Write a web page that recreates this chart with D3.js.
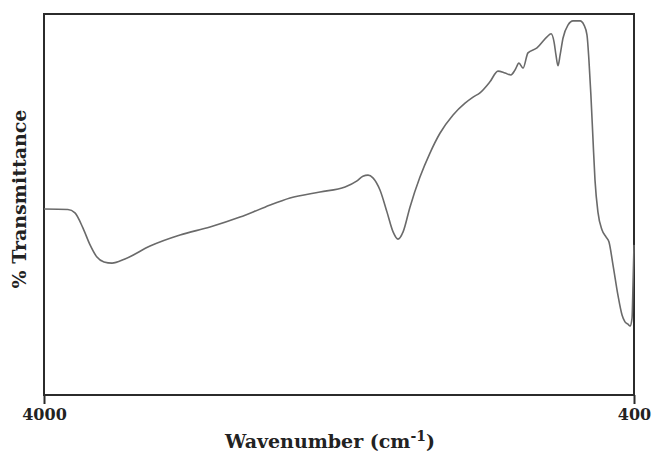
<!DOCTYPE html>
<html>
<head>
<meta charset="utf-8">
<script src="https://cdn.jsdelivr.net/npm/d3@7"></script>
<style>
  body { margin: 0; background: #fff; }
  text { font-family: "DejaVu Serif", "Liberation Serif", serif; font-weight: bold; fill: #222; }
</style>
</head>
<body>
<div id="chart"></div>
<script>
// wavenumber (cm-1) and % transmittance
var wavenumber = [4000, 3854, 3811, 3762, 3719, 3677, 3634, 3585, 3506, 3353, 3170, 2987, 2804, 2652, 2499, 2316, 2163, 2090, 2054, 2023, 1993, 1950, 1907, 1870, 1840, 1809, 1767, 1706, 1645, 1584, 1504, 1431, 1382, 1340, 1279, 1230, 1187, 1151, 1126, 1102, 1077, 1047, 992, 931, 906, 888, 876, 864, 851, 833, 803, 772, 729, 705, 687, 675, 663, 650, 638, 620, 595, 571, 553, 528, 498, 473, 455, 437, 424, 412, 406, 400];
var transmittance = [48.8, 48.7, 47.8, 43.8, 39.4, 36.2, 34.9, 34.6, 35.7, 39.1, 42.0, 44.1, 46.7, 49.3, 51.7, 53.3, 54.6, 56.2, 57.4, 57.7, 57.0, 53.8, 48.0, 42.8, 40.9, 42.8, 49.3, 57.2, 63.5, 68.7, 73.5, 76.6, 78.2, 79.3, 82.2, 85.0, 84.5, 84.0, 85.3, 87.1, 85.8, 89.8, 91.1, 94.0, 94.8, 92.7, 89.2, 86.4, 89.2, 93.7, 97.1, 98.2, 98.2, 97.1, 94.5, 87.9, 78.7, 66.9, 56.4, 48.0, 43.3, 41.5, 40.2, 34.1, 26.2, 21.0, 19.2, 18.6, 18.1, 20.2, 28.9, 39.4];
var tickValues = [4000, 400];

function init() {
    var w = 654;
    var h = 455;
    var margin = { left: 44, right: 20, top: 14, bottom: 60 };

    var svg = d3.select("#chart")
                .append("svg")
                .attr("width", w)
                .attr("height", h);

    var x = d3.scaleLinear()
              .domain([4000, 400])
              .range([margin.left, w - margin.right]);

    var y = d3.scaleLinear()
              .domain([0, 100])
              .range([h - margin.bottom, margin.top]);

    var data = wavenumber.map(function(d, i) {
        return { wn: d, t: transmittance[i] };
    });

    // frame
    svg.append("rect")
       .attr("x", margin.left)
       .attr("y", margin.top)
       .attr("width", w - margin.left - margin.right)
       .attr("height", h - margin.top - margin.bottom)
       .style("fill", "none")
       .style("stroke", "#2b2b2b")
       .style("stroke-width", 2);

    // x axis with two ticks only
    var xAxis = d3.axisBottom(x)
                  .tickValues(tickValues)
                  .tickSize(9)
                  .tickFormat(d3.format("d"));

    var gx = svg.append("g")
                .attr("transform", "translate(0," + (h - margin.bottom) + ")")
                .call(xAxis);
    gx.select(".domain").remove();
    gx.selectAll(".tick line").style("stroke", "#2b2b2b").style("stroke-width", 2);
    gx.selectAll(".tick text")
      .attr("y", 14)
      .style("font-size", "16px")
      .style("font-family", "DejaVu Serif")
      .style("fill", "#222");

    // spectrum line
    var line = d3.line()
                 .x(function(d) { return x(d.wn); })
                 .y(function(d) { return y(d.t); })
                 .curve(d3.curveMonotoneX);

    svg.append("path")
       .datum(data)
       .attr("d", line)
       .style("fill", "none")
       .style("stroke", "#6a6a6a")
       .style("stroke-width", 1.6);

    // axis titles
    var xt = svg.append("text")
       .attr("x", 330)
       .attr("y", 448)
       .attr("text-anchor", "middle")
       .style("font-size", "19px");
    xt.append("tspan").text("Wavenumber (cm");
    xt.append("tspan").attr("dy", -7).style("font-size", "14px").text("-1");
    xt.append("tspan").attr("dy", 7).text(")");

    svg.append("text")
       .attr("transform", "translate(26,199) rotate(-90)")
       .attr("text-anchor", "middle")
       .style("font-size", "19px")
       .text("% Transmittance");
}

window.onload = init;
</script>
</body>
</html>
